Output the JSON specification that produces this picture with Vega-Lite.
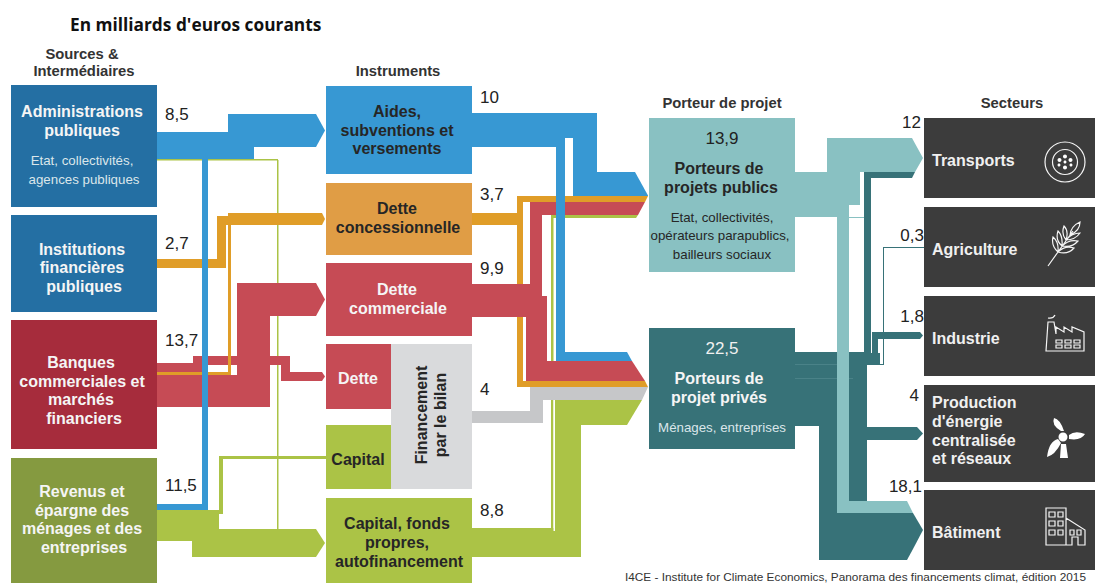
{
"$schema":"https://vega.github.io/schema/vega-lite/v6.json",
"width":1095,"height":583,"padding":0,"autosize":{"type":"none"},
"background":"white","config":{"view":{"stroke":null}},
"resolve":{"scale":{"shape":"independent"}},
"datasets":{
"rects":[
{"c":"box_admin","x":11,"x2":157,"y":85,"y2":207},
{"c":"box_admin","x":11,"x2":157,"y":215,"y2":312},
{"c":"box_banque","x":11,"x2":157,"y":320,"y2":449},
{"c":"box_revenu","x":11,"x2":157,"y":458,"y2":583},
{"c":"aides","x":326,"x2":472,"y":86,"y2":174},
{"c":"box_conc","x":326,"x2":472,"y":183,"y2":255},
{"c":"comm","x":326,"x2":472,"y":263,"y2":336},
{"c":"comm","x":326,"x2":391,"y":344,"y2":409},
{"c":"capital","x":326,"x2":391,"y":425,"y2":489},
{"c":"bilan_box","x":391,"x2":472,"y":344,"y2":489},
{"c":"capital","x":326,"x2":472,"y":498,"y2":583},
{"c":"public","x":649,"x2":795,"y":118,"y2":272},
{"c":"prive","x":649,"x2":795,"y":328,"y2":449},
{"c":"secteur","x":924,"x2":1095,"y":118,"y2":198},
{"c":"secteur","x":924,"x2":1095,"y":207,"y2":287},
{"c":"secteur","x":924,"x2":1095,"y":296,"y2":376},
{"c":"secteur","x":924,"x2":1095,"y":385,"y2":482},
{"c":"secteur","x":924,"x2":1095,"y":490,"y2":570},
{"c":"capital","x":157,"x2":278,"y":159,"y2":160.5},
{"c":"capital","x":277,"x2":278.5,"y":160,"y2":530},
{"c":"capital","x":157,"x2":219,"y":510,"y2":541},
{"c":"capital","x":192,"x2":316,"y":529,"y2":557},
{"c":"capital","x":219,"x2":223,"y":456,"y2":514},
{"c":"capital","x":219,"x2":326,"y":456,"y2":459},
{"c":"aides","x":157,"x2":254,"y":132,"y2":159},
{"c":"aides","x":228,"x2":316,"y":114,"y2":147},
{"c":"conc","x":157,"x2":226,"y":259,"y2":268},
{"c":"conc","x":217,"x2":226,"y":216,"y2":268},
{"c":"conc","x":217,"x2":229,"y":216,"y2":225},
{"c":"conc","x":228,"x2":322,"y":213,"y2":225},
{"c":"comm","x":237,"x2":316,"y":283,"y2":316},
{"c":"comm","x":237,"x2":270,"y":283,"y2":407},
{"c":"comm","x":157,"x2":270,"y":375,"y2":407},
{"c":"comm","x":157,"x2":208,"y":363,"y2":372},
{"c":"comm","x":193,"x2":290,"y":356,"y2":365},
{"c":"comm","x":281,"x2":290,"y":356,"y2":381},
{"c":"comm","x":281,"x2":322,"y":372,"y2":381},
{"c":"conc","x":157,"x2":231,"y":372,"y2":375},
{"c":"conc","x":228,"x2":231,"y":225,"y2":375},
{"c":"aides","x":202,"x2":208,"y":159,"y2":510},
{"c":"aides","x":157,"x2":208,"y":504,"y2":510},
{"c":"capital","x":551,"x2":553.5,"y":215,"y2":528},
{"c":"capital","x":551,"x2":636,"y":215,"y2":218},
{"c":"capital","x":555,"x2":581,"y":400,"y2":557},
{"c":"capital","x":472,"x2":581,"y":531,"y2":557},
{"c":"capital","x":472,"x2":555,"y":528,"y2":531},
{"c":"capital","x":555,"x2":627,"y":400,"y2":425},
{"c":"conc","x":472,"x2":523,"y":213,"y2":225},
{"c":"conc","x":517,"x2":523,"y":196,"y2":387},
{"c":"conc","x":517,"x2":645,"y":196,"y2":202},
{"c":"conc","x":517,"x2":645,"y":381,"y2":387},
{"c":"comm","x":472,"x2":530,"y":284,"y2":296},
{"c":"comm","x":530,"x2":542,"y":202,"y2":296},
{"c":"comm","x":530,"x2":638,"y":202,"y2":215},
{"c":"comm","x":472,"x2":547,"y":296,"y2":317},
{"c":"comm","x":526,"x2":547,"y":296,"y2":381},
{"c":"comm","x":526,"x2":632,"y":361,"y2":381},
{"c":"bilan","x":472,"x2":543,"y":411,"y2":423},
{"c":"bilan","x":530,"x2":543,"y":387,"y2":423},
{"c":"bilan","x":530,"x2":642,"y":387,"y2":400},
{"c":"aides","x":472,"x2":597,"y":113,"y2":138},
{"c":"aides","x":472,"x2":565,"y":138,"y2":147},
{"c":"aides","x":573,"x2":597,"y":113,"y2":196},
{"c":"aides","x":573,"x2":635,"y":172,"y2":196},
{"c":"aides","x":556,"x2":565,"y":138,"y2":361},
{"c":"aides","x":556,"x2":627,"y":352,"y2":361},
{"c":"prive","x":795,"x2":837,"y":352,"y2":426},
{"c":"prive","x":819,"x2":837,"y":426,"y2":513},
{"c":"prive","x":819,"x2":907,"y":513,"y2":560},
{"c":"prive","x":837,"x2":867,"y":352,"y2":501},
{"c":"prive","x":864,"x2":871,"y":172,"y2":353},
{"c":"prive","x":864,"x2":912,"y":172,"y2":178},
{"c":"prive","x":867,"x2":880,"y":353,"y2":365},
{"c":"prive","x":872,"x2":878,"y":332,"y2":365},
{"c":"prive","x":872,"x2":920,"y":332,"y2":339},
{"c":"prive","x":867,"x2":917,"y":427,"y2":440},
{"c":"prive","x":883,"x2":884,"y":247,"y2":365},
{"c":"prive","x":883,"x2":924,"y":247,"y2":248},
{"c":"prive","x":867,"x2":884,"y":364,"y2":365},
{"c":"trait","x":795,"x2":837,"y":364,"y2":365},
{"c":"trait","x":795,"x2":853,"y":378,"y2":379},
{"c":"public","x":795,"x2":860,"y":172,"y2":205},
{"c":"public","x":795,"x2":849,"y":205,"y2":217},
{"c":"public","x":827,"x2":860,"y":138,"y2":172},
{"c":"public","x":860,"x2":912,"y":138,"y2":172},
{"c":"public","x":849,"x2":864,"y":217,"y2":218},
{"c":"public","x":837,"x2":849,"y":205,"y2":513},
{"c":"public","x":837,"x2":907,"y":501,"y2":513}
],
"heads":[
{"id":"a1","c":"aides","x":316,"y":114,"y2":147},{"id":"a1","c":"aides","x":325,"y":130.5,"y2":130.5},
{"id":"a2","c":"conc","x":322,"y":213,"y2":225},{"id":"a2","c":"conc","x":325,"y":219,"y2":219},
{"id":"a3","c":"comm","x":316,"y":283,"y2":316},{"id":"a3","c":"comm","x":325,"y":299.5,"y2":299.5},
{"id":"a4","c":"comm","x":322,"y":372,"y2":381},{"id":"a4","c":"comm","x":325,"y":376.5,"y2":376.5},
{"id":"a5","c":"capital","x":316,"y":529,"y2":557},{"id":"a5","c":"capital","x":325,"y":543,"y2":543},
{"id":"b1","c":"aides","x":635,"y":172,"y2":196},{"id":"b1","c":"aides","x":648,"y":195.5,"y2":196},
{"id":"b2","c":"conc","x":645,"y":196,"y2":202},{"id":"b2","c":"conc","x":648,"y":196,"y2":196},
{"id":"b3","c":"comm","x":638,"y":202,"y2":215},{"id":"b3","c":"comm","x":645,"y":202,"y2":202},
{"id":"b4","c":"capital","x":636,"y":215,"y2":218},{"id":"b4","c":"capital","x":638,"y":215,"y2":215},
{"id":"c1","c":"aides","x":627,"y":352,"y2":361},{"id":"c1","c":"aides","x":632,"y":361,"y2":361},
{"id":"c2","c":"comm","x":632,"y":361,"y2":381},{"id":"c2","c":"comm","x":645,"y":381,"y2":381},
{"id":"c3","c":"conc","x":645,"y":381,"y2":387},{"id":"c3","c":"conc","x":648,"y":387,"y2":387},
{"id":"c4","c":"bilan","x":642,"y":387,"y2":400},{"id":"c4","c":"bilan","x":648,"y":387,"y2":387},
{"id":"c5","c":"capital","x":627,"y":400,"y2":425},{"id":"c5","c":"capital","x":642,"y":400,"y2":400},
{"id":"d1","c":"public","x":912,"y":138,"y2":172},{"id":"d1","c":"public","x":915,"y":143.5,"y2":172},{"id":"d1","c":"public","x":923,"y":158,"y2":158},
{"id":"d2","c":"prive","x":912,"y":172,"y2":178},{"id":"d2","c":"prive","x":915,"y":172,"y2":172},
{"id":"d3","c":"prive","x":920,"y":332,"y2":339},{"id":"d3","c":"prive","x":923,"y":335.5,"y2":335.5},
{"id":"d4","c":"prive","x":917,"y":427,"y2":440},{"id":"d4","c":"prive","x":923,"y":433.5,"y2":433.5},
{"id":"d5","c":"public","x":907,"y":501,"y2":513},{"id":"d5","c":"public","x":913,"y":513,"y2":513},
{"id":"d6","c":"prive","x":907,"y":513,"y2":560},{"id":"d6","c":"prive","x":913,"y":513,"y2":549},{"id":"d6","c":"prive","x":923,"y":530,"y2":530}
],
"gaps":[{"x":553.5,"x2":555,"y":400,"y2":531}],
"icons":[
{"icon":"roue","x":1065,"y":162},
{"icon":"ble","x":1064,"y":244},
{"icon":"usine","x":1065,"y":335},
{"icon":"immeuble","x":1065,"y":527}
],
"solid":[
{"icon":"moyeu","x":1065,"y":162},
{"icon":"eolienne","x":1063,"y":437}
],
"texts":[
{"r":"title","t":"En milliards d'euros courants","x":70,"y":26},
{"r":"head","t":"Sources &","x":82,"y":53},
{"r":"head","t":"Intermédiaires","x":84,"y":70},
{"r":"head","t":"Instruments","x":398,"y":70},
{"r":"head","t":"Porteur de projet","x":722,"y":102},
{"r":"head","t":"Secteurs","x":1012,"y":102},
{"r":"bw","t":"Administrations","x":82,"y":110},
{"r":"bw","t":"publiques","x":82,"y":129},
{"r":"bw","t":"Institutions","x":82,"y":248},
{"r":"bw","t":"financières","x":82,"y":266},
{"r":"bw","t":"publiques","x":84,"y":285},
{"r":"bw","t":"Banques","x":81,"y":361},
{"r":"bw","t":"commerciales et","x":82,"y":380},
{"r":"bw","t":"marchés","x":81,"y":398},
{"r":"bw","t":"financiers","x":84,"y":417},
{"r":"bw","t":"Revenus et","x":82,"y":490},
{"r":"bw","t":"épargne des","x":82,"y":509},
{"r":"bw","t":"ménages et des","x":82,"y":527},
{"r":"bw","t":"entreprises","x":84,"y":546},
{"r":"bw","t":"Dette","x":397,"y":288},
{"r":"bw","t":"commerciale","x":398,"y":307},
{"r":"bw","t":"Dette","x":358,"y":377},
{"r":"bw","t":"Porteurs de","x":719,"y":377},
{"r":"bw","t":"projet privés","x":719,"y":396},
{"r":"bd","t":"Aides,","x":397,"y":110},
{"r":"bd","t":"subventions et","x":397,"y":129},
{"r":"bd","t":"versements","x":397,"y":147},
{"r":"bd","t":"Dette","x":397,"y":207},
{"r":"bd","t":"concessionnelle","x":398,"y":226},
{"r":"bd","t":"Capital","x":358,"y":458},
{"r":"bd","t":"Capital, fonds","x":397,"y":522},
{"r":"bd","t":"propres,","x":397,"y":541},
{"r":"bd","t":"autofinancement","x":399,"y":560},
{"r":"bd","t":"Porteurs de","x":719,"y":167},
{"r":"bd","t":"projets publics","x":721,"y":186},
{"r":"rot","t":"Financement","x":421,"y":415},
{"r":"rot","t":"par le bilan","x":440,"y":415},
{"r":"sec","t":"Transports","x":932,"y":159},
{"r":"sec","t":"Agriculture","x":932,"y":248},
{"r":"sec","t":"Industrie","x":932,"y":337},
{"r":"sec","t":"Production","x":932,"y":401},
{"r":"sec","t":"d'énergie","x":932,"y":420},
{"r":"sec","t":"centralisée","x":932,"y":439},
{"r":"sec","t":"et réseaux","x":932,"y":457},
{"r":"sec","t":"Bâtiment","x":932,"y":531},
{"r":"vl","t":"8,5","x":165,"y":113},
{"r":"vl","t":"2,7","x":165,"y":242},
{"r":"vl","t":"13,7","x":165,"y":339},
{"r":"vl","t":"11,5","x":165,"y":484},
{"r":"vl","t":"10","x":480,"y":96},
{"r":"vl","t":"3,7","x":480,"y":193},
{"r":"vl","t":"9,9","x":480,"y":267},
{"r":"vl","t":"4","x":480,"y":388},
{"r":"vl","t":"8,8","x":480,"y":509},
{"r":"vr","t":"12","x":921,"y":121},
{"r":"vr","t":"0,3","x":924,"y":234},
{"r":"vr","t":"1,8","x":924,"y":315},
{"r":"vr","t":"4","x":919,"y":394},
{"r":"vr","t":"18,1","x":922,"y":485},
{"r":"vcd","t":"13,9","x":722,"y":137},
{"r":"vcw","t":"22,5","x":722,"y":347},
{"r":"sw","t":"Etat, collectivités,","x":82,"y":159},
{"r":"sw","t":"agences publiques","x":84,"y":178},
{"r":"sw","t":"Ménages, entreprises","x":722,"y":426},
{"r":"sd","t":"Etat, collectivités,","x":722,"y":216},
{"r":"sd","t":"opérateurs parapublics,","x":720,"y":234},
{"r":"sd","t":"bailleurs sociaux","x":722,"y":253},
{"r":"foot","t":"I4CE - Institute for Climate Economics, Panorama des financements climat, édition 2015","x":625,"y":575}
]
},
"encoding":{
"x":{"field":"x","type":"quantitative","axis":null,"scale":{"domain":[0,1095],"nice":false,"zero":false}},
"y":{"field":"y","type":"quantitative","axis":null,"scale":{"domain":[583,0],"nice":false,"zero":false}}
},
"layer":[
{"data":{"name":"rects"},"mark":{"type":"rect"},
"encoding":{"x2":{"field":"x2"},"y2":{"field":"y2"},
"color":{"field":"c","type":"nominal","legend":null,"scale":{"domain":["box_admin","box_banque","box_revenu","box_conc","aides","conc","comm","capital","bilan","bilan_box","public","prive","secteur","trait"],"range":["#246fa3","#a62c3c","#859a40","#e09d45","#3798d3","#e09d28","#c64b55","#abc346","#c6c7c9","#d9dadc","#89c1c2","#377278","#3c3c3c","#4a8288"]}}}},
{"data":{"name":"heads"},"mark":{"type":"area","orient":"vertical","interpolate":"linear"},
"encoding":{"y2":{"field":"y2"},"detail":{"field":"id"},
"color":{"field":"c","type":"nominal","legend":null}}},
{"data":{"name":"gaps"},"mark":{"type":"rect","color":"white"},"encoding":{"x2":{"field":"x2"},"y2":{"field":"y2"}}},
{"data":{"name":"icons"},"mark":{"type":"point","filled":false,"stroke":"white","strokeWidth":1.2,"opacity":0.95,"size":4},
"encoding":{"shape":{"field":"icon","type":"nominal","legend":null,"scale":{"domain":["roue","ble","usine","immeuble"],"range":[
"M-20 0A20 20 0 1 1 20 0A20 20 0 1 1 -20 0ZM-12.5 0A12.5 12.5 0 1 1 12.5 0A12.5 12.5 0 1 1 -12.5 0Z",
"M-16 22L9 -13M-6 8Q-13 2 -11 -7Q-5 -2 -6 8M-2 2Q-9 -4 -6 -13Q-1 -8 -2 2M2 -4Q-3 -10 0 -18Q5 -13 2 -4M-6 8Q1 1 10 4Q4 11 -6 8M-2 2Q5 -5 14 -3Q8 4 -2 2M2 -4Q8 -11 16 -11Q11 -4 2 -4M6 -9Q7 -18 16 -22Q16 -13 6 -9",
"M-19 16L-17 -13L-11 -13L-9 -1L-9 -8L-1 -3L-1 -8L7 -3L7 -8L19 -3L19 16ZM-17 -17Q-12 -16 -10 -20M-9 5H-3V8H-9ZM0 5H6V8H0ZM9 5H15V8H9ZM-9 10H-3V13H-9ZM0 10H6V13H0ZM9 10H15V13H9Z",
"M-19 18V-19H1V18ZM-16 -15H-10V-10H-16ZM-7 -15H-2V-10H-7ZM-16 -6H-10V-1H-16ZM-7 -6H-2V-1H-7ZM-16 3H-10V8H-16ZM-7 3H-2V8H-7ZM1 -9L20 3V18H13V10H7V18H1ZM5 3H9V8H5ZM12 3H16V8H12Z"
]}}}},
{"data":{"name":"solid"},"mark":{"type":"point","filled":true,"fill":"white","stroke":null,"opacity":1,"size":4},
"encoding":{"shape":{"field":"icon","type":"nominal","legend":null,"scale":{"domain":["moyeu","eolienne"],"range":[
"M-2 -5.5A2 2 0 1 1 2 -5.5A2 2 0 1 1 -2 -5.5ZM-2 5.5A2 2 0 1 1 2 5.5A2 2 0 1 1 -2 5.5ZM-7.5 -2A2 2 0 1 1 -3.5 -2A2 2 0 1 1 -7.5 -2ZM3.5 -2A2 2 0 1 1 7.5 -2A2 2 0 1 1 3.5 -2ZM-7.5 3A1.5 1.5 0 1 1 -4.5 3A1.5 1.5 0 1 1 -7.5 3ZM4.5 3A1.5 1.5 0 1 1 7.5 3A1.5 1.5 0 1 1 4.5 3ZM-1.5 0A1.5 1.5 0 1 1 1.5 0A1.5 1.5 0 1 1 -1.5 0Z",
"M-4.5 0A4.5 4.5 0 1 1 4.5 0A4.5 4.5 0 1 1 -4.5 0ZM-2 -6Q-12 -12 -9 -19Q-3 -18 1 -6ZM6 -2Q12 -7 22 -3Q18 4 6 2ZM-5 2Q-14 4 -16 20Q-8 18 -2 6ZM-2 7L-3 21L5 21L3 7Z"
]}}}},
{"data":{"name":"texts"},"transform":[{"filter":"datum.r==='title'"}],"mark":{"type":"text","align":"left","baseline":"middle","font":"Open Sans","fontWeight":"bold","fontSize":17.3,"fill":"#111111"},"encoding":{"text":{"field":"t"}}},
{"data":{"name":"texts"},"transform":[{"filter":"datum.r==='head'"}],"mark":{"type":"text","align":"center","baseline":"middle","dy":2,"font":"Liberation Sans","fontWeight":"bold","fontSize":14.8,"fill":"#333333"},"encoding":{"text":{"field":"t"}}},
{"data":{"name":"texts"},"transform":[{"filter":"datum.r==='bw'"}],"mark":{"type":"text","align":"center","baseline":"middle","dy":2,"font":"Liberation Sans","fontWeight":"bold","fontSize":16,"fill":"#f5f5f5"},"encoding":{"text":{"field":"t"}}},
{"data":{"name":"texts"},"transform":[{"filter":"datum.r==='bd'"}],"mark":{"type":"text","align":"center","baseline":"middle","dy":2,"font":"Liberation Sans","fontWeight":"bold","fontSize":16,"fill":"#262626"},"encoding":{"text":{"field":"t"}}},
{"data":{"name":"texts"},"transform":[{"filter":"datum.r==='rot'"}],"mark":{"type":"text","align":"center","baseline":"middle","angle":270,"dy":1,"font":"Liberation Sans","fontWeight":"bold","fontSize":16,"fill":"#262626"},"encoding":{"text":{"field":"t"}}},
{"data":{"name":"texts"},"transform":[{"filter":"datum.r==='sec'"}],"mark":{"type":"text","align":"left","baseline":"middle","dy":2,"font":"Liberation Sans","fontWeight":"bold","fontSize":16,"fill":"#f0f0f0"},"encoding":{"text":{"field":"t"}}},
{"data":{"name":"texts"},"transform":[{"filter":"datum.r==='vl'"}],"mark":{"type":"text","align":"left","baseline":"middle","dy":2,"font":"Liberation Sans","fontSize":17,"fill":"#222222"},"encoding":{"text":{"field":"t"}}},
{"data":{"name":"texts"},"transform":[{"filter":"datum.r==='vr'"}],"mark":{"type":"text","align":"right","baseline":"middle","dy":2,"font":"Liberation Sans","fontSize":17,"fill":"#222222"},"encoding":{"text":{"field":"t"}}},
{"data":{"name":"texts"},"transform":[{"filter":"datum.r==='vcd'"}],"mark":{"type":"text","align":"center","baseline":"middle","dy":2,"font":"Liberation Sans","fontSize":17,"fill":"#222222"},"encoding":{"text":{"field":"t"}}},
{"data":{"name":"texts"},"transform":[{"filter":"datum.r==='vcw'"}],"mark":{"type":"text","align":"center","baseline":"middle","dy":2,"font":"Liberation Sans","fontSize":17,"fill":"#f0f0f0"},"encoding":{"text":{"field":"t"}}},
{"data":{"name":"texts"},"transform":[{"filter":"datum.r==='sw'"}],"mark":{"type":"text","align":"center","baseline":"middle","dy":2,"font":"Liberation Sans","fontSize":13.3,"fill":"#dbe6ea"},"encoding":{"text":{"field":"t"}}},
{"data":{"name":"texts"},"transform":[{"filter":"datum.r==='sd'"}],"mark":{"type":"text","align":"center","baseline":"middle","dy":2,"font":"Liberation Sans","fontSize":13.3,"fill":"#262626"},"encoding":{"text":{"field":"t"}}},
{"data":{"name":"texts"},"transform":[{"filter":"datum.r==='foot'"}],"mark":{"type":"text","align":"left","baseline":"middle","dy":2,"font":"Liberation Sans","fontSize":11.8,"fill":"#333333"},"encoding":{"text":{"field":"t"}}}
]
}
